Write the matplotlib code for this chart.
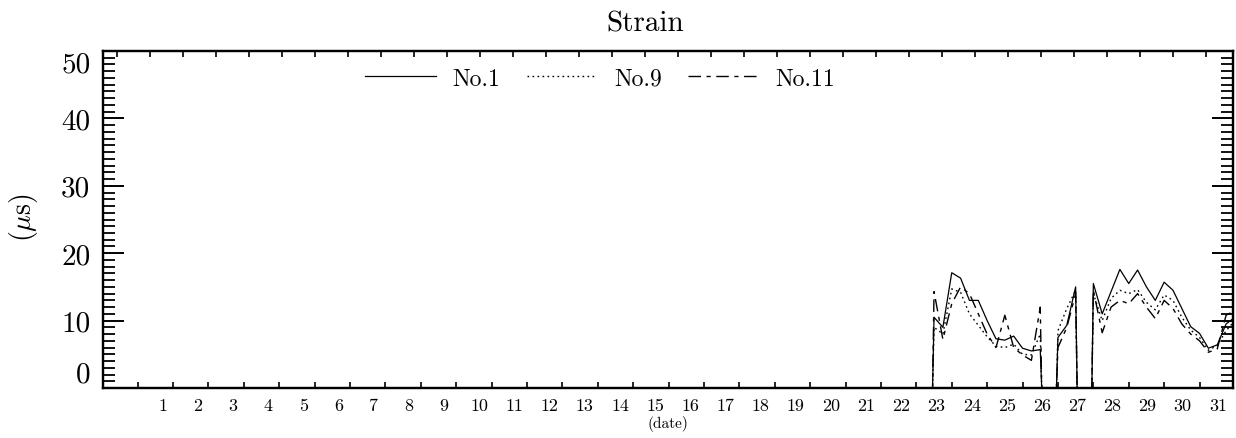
import numpy as np
import matplotlib
matplotlib.use("Agg")
import matplotlib.pyplot as plt

plt.rcParams["font.family"] = ["cmr10", "DejaVu Serif"]
plt.rcParams["mathtext.fontset"] = "cm"
plt.rcParams["axes.formatter.use_mathtext"] = True
plt.rcParams["lines.scale_dashes"] = False

# ---- data -------------------------------------------------------------
# strain readings every 6 hours; the logger reports 0 while switched off
SAMPLE_DAYS = 0.25
segment_starts = [23.0, 26.5, 27.5]

no1_strain = [
    [10.5, 9.0, 17.1, 16.3, 13.0, 13.0, 10.0, 7.3, 7.1, 7.7, 5.9, 5.5, 5.7],
    [7.5, 9.3, 15.0],
    [15.5, 11.0, 14.3, 17.6, 15.5, 17.5, 15.0, 13.0, 15.7, 14.5, 11.8, 9.1,
     8.1, 5.9, 6.4, 9.5, 10.5],
]
no9_strain = [
    [9.0, 8.0, 14.7, 14.2, 11.0, 9.3, 7.6, 6.2, 6.0, 6.5, 5.0, 4.9, 8.0],
    [8.5, 11.8, 14.5],
    [14.0, 10.0, 13.3, 14.5, 14.0, 14.6, 12.7, 11.6, 13.8, 13.0, 10.5, 8.6,
     7.5, 5.6, 6.3, 8.5, 10.0],
]
no11_strain = [
    [14.3, 7.2, 12.5, 15.0, 14.0, 11.0, 8.0, 6.0, 10.8, 6.0, 4.9, 4.1, 12.0],
    [6.0, 9.0, 14.0],
    [14.5, 8.2, 12.0, 13.0, 12.5, 14.0, 12.0, 10.3, 13.0, 11.8, 9.5, 8.0,
     7.0, 5.3, 5.8, 10.8, 11.5],
]
series_names = ["No.1", "No.9", "No.11"]
day_labels = [str(d) for d in range(1, 32)]
y_ticks = [0, 10, 20, 30, 40, 50]


def full_record(segments):
    """Join the recorded segments, with zero readings where the logger was off."""
    t, v = [0.0], [0.0]
    for start, seg in zip(segment_starts, segments):
        ts = start + SAMPLE_DAYS * np.arange(len(seg))
        t += [start - 1 / 24, *ts, ts[-1] + 1 / 24]
        v += [0.0, *seg, 0.0]
    return np.array(t), np.array(v)


# ---- figure -----------------------------------------------------------
fig = plt.figure(figsize=(12.36, 4.39), dpi=100)
ax = fig.add_axes([103 / 1236, 1 - 389 / 439, 1130 / 1236, 337 / 439])

styles = [
    dict(linestyle="-", linewidth=0.9),
    dict(linestyle=(0, (1.2, 2.4)), linewidth=1.0),
    dict(linestyle=(0, (9, 4, 3, 4)), linewidth=1.0),
]
for name, data, st in zip(series_names, [no1_strain, no9_strain, no11_strain], styles):
    t, v = full_record(data)
    ax.plot(t, v, color="black", label=name, **st)

ax.set_xlim(-0.475, 31.445)
ax.set_ylim(0, 50)

for sp in ax.spines.values():
    sp.set_linewidth(1.6)

# y axis: major every 10, minor every 1, mirrored on the right
ax.set_yticks(y_ticks)
ax.set_yticks(np.arange(0, 51, 1), minor=True)
ax.set_yticklabels([str(y) for y in y_ticks], fontsize=21)
ax.tick_params(axis="y", which="major", direction="in", length=15, width=1.4,
               right=True, pad=9)
ax.tick_params(axis="y", which="minor", direction="in", length=8.5, width=1.3,
               right=True)
ylabs = ax.get_yticklabels()
ylabs[0].set_va("bottom")
ylabs[-1].set_va("top")

# x axis: ticks between days, day numbers as labels
ax.set_xticks(np.arange(0.5, 31, 1))
ax.set_xticklabels([])
ax.set_xticks(np.linspace(1.21, 31.02, 31), minor=True)
ax.set_xticklabels(day_labels, minor=True, fontsize=13)
ax.tick_params(axis="x", which="major", direction="in", length=4.3, width=1.2,
               top=False)
ax.tick_params(axis="x", which="minor", length=0, pad=7)

# top axis carries its own tick spacing
top = ax.twiny()
top.set_xlim(0, 1130 / 33)
top.set_xticks(np.arange(0.43, 34.3, 1))
top.set_xticklabels([])
top.tick_params(axis="x", direction="in", length=4.3, width=1.2)
for sp in top.spines.values():
    sp.set_linewidth(1.6)

fig.text(645 / 1236, 1 - 24 / 439, "Strain", ha="center", va="center",
         fontsize=21)
fig.text(668 / 1236, 1 - 424 / 439, "(date)", ha="center", va="center",
         fontsize=11)
fig.text(24 / 1236, 1 - 218 / 439, r"($\mu$s)", ha="center", va="center",
         rotation=90, fontsize=20)

ax.legend(loc="upper center", bbox_to_anchor=((600 - 103) / 1130, 1.0), ncol=3,
          frameon=False, fontsize=17, handlelength=3.0, handletextpad=0.7,
          columnspacing=1.1, borderaxespad=0.3)

fig.savefig("out.png", dpi=100)
